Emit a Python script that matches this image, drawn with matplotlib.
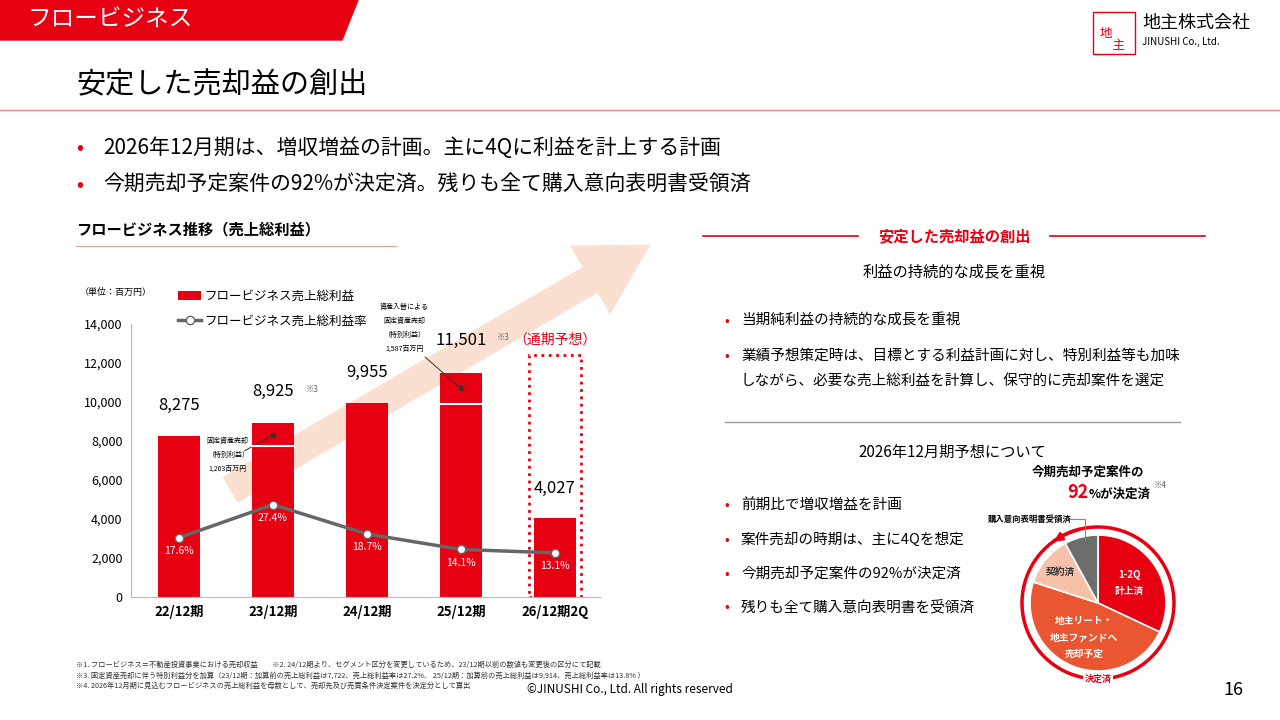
import matplotlib.pyplot as plt
from matplotlib.patches import Polygon, Rectangle, FancyArrow
import numpy as np

plt.rcParams['font.family'] = ['Noto Sans CJK JP', 'DejaVu Sans']

# =========================
# Data
# =========================
periods = ["22/12期", "23/12期", "24/12期", "25/12期", "26/12期2Q"]
gross_profit = [8275, 8925, 9955, 11501, 4027]
base_profit = [8275, 7722, 9955, 9914, 4027]   # before special gains
margin = [17.6, 27.4, 18.7, 14.1, 13.1]
forecast_top = 12400

pie_labels = ["1-2Q\n計上済", "地主リート・\n地主ファンドへ\n売却予定", "契約済", ""]
pie_share = [32, 48, 12, 8]
pie_colors = ["#e60012", "#ea5532", "#f5c1a9", "#6d6d6d"]

RED = "#e60012"

fig = plt.figure(figsize=(12.8, 7.2), dpi=100)
bg = fig.add_axes([0, 0, 1, 1])
bg.set_xlim(0, 1280)
bg.set_ylim(720, 0)
bg.axis("off")

# header
bg.add_patch(Polygon([[0, 0], [358, 0], [342, 40], [0, 40]], color=RED))
bg.text(28, 20, "フロービジネス", color="white", fontsize=17, va="center")
bg.text(76, 85, "安定した売却益の創出", fontsize=21, va="center")
bg.plot([0, 1280], [110, 110], color="#e88", lw=1)
bg.add_patch(Rectangle((1093, 12), 42, 42, fill=False, ec=RED, lw=1))
bg.text(1100, 40, "地\n　主", color=RED, fontsize=9, va="center", linespacing=0.9)
bg.text(1142, 23, "地主株式会社", fontsize=13, va="center")
bg.text(1142, 42, "JINUSHI Co., Ltd.", fontsize=7, va="center")

for y, t in [(148, "2026年12月期は、増収増益の計画。主に4Qに利益を計上する計画"),
             (185, "今期売却予定案件の92%が決定済。残りも全て購入意向表明書受領済")]:
    bg.text(76, y, "•", color=RED, fontsize=15, va="center")
    bg.text(103, y, t, fontsize=15, va="center")

bg.text(76, 229, "フロービジネス推移（売上総利益）", fontsize=11, fontweight="bold", va="center")
bg.plot([76, 396], [246, 246], color="#e99", lw=0.8)
bg.text(80, 292, "（単位：百万円）", fontsize=6.5, va="center")

# background arrow
bg.add_patch(FancyArrow(230, 490, 360, -210, width=30, head_width=80, head_length=70,
                        color="#fbd9c6", alpha=0.8, lw=0))

# right panel
bg.plot([703, 858], [236, 236], color=RED, lw=1.2)
bg.plot([1050, 1205], [236, 236], color=RED, lw=1.2)
bg.text(954, 236, "安定した売却益の創出", color=RED, fontsize=11, fontweight="bold", ha="center", va="center")
bg.text(954, 272, "利益の持続的な成長を重視", fontsize=11, ha="center", va="center")
for y, t in [(321, "当期純利益の持続的な成長を重視"),
             (356, "業績予想策定時は、目標とする利益計画に対し、特別利益等も加味"),
             (382, "しながら、必要な売上総利益を計算し、保守的に売却案件を選定")]:
    if y != 382:
        bg.text(724, y, "•", color=RED, fontsize=10, va="center")
    bg.text(741, y, t, fontsize=10.5, va="center")
bg.plot([725, 1180], [422, 422], color="#999", lw=1)
bg.text(952, 452, "2026年12月期予想について", fontsize=11, ha="center", va="center")
for y, t in [(505, "前期比で増収増益を計画"), (540, "案件売却の時期は、主に4Qを想定"),
             (574, "今期売却予定案件の92%が決定済"), (607, "残りも全て購入意向表明書を受領済")]:
    bg.text(724, y, "•", color=RED, fontsize=10, va="center")
    bg.text(741, y, t, fontsize=10.5, va="center")

bg.text(1088, 472, "今期売却予定案件の", fontsize=9, fontweight="bold", ha="center", va="center")
bg.text(1088, 493, "92", color=RED, fontsize=13, fontweight="bold", ha="right", va="center")
bg.text(1089, 494, "%が決定済", fontsize=9, fontweight="bold", ha="left", va="center")
bg.text(1154, 485, "※4", fontsize=6, color="#666", va="center")

# pie
cx, cy, r = 1098, 603, 68
ang = 90
for share, col, lab in zip(pie_share, pie_colors, pie_labels):
    span = share / 100 * 360
    t = np.radians(np.linspace(ang, ang - span, 60))
    pts = [[cx, cy]] + [[cx + r * np.cos(a), cy - r * np.sin(a)] for a in t]
    bg.add_patch(Polygon(pts, color=col, ec="white", lw=1.2))
    mid = np.radians(ang - span / 2)
    rr = 0.55 * r if lab != "契約済" else 0.72 * r
    if lab:
        bg.text(cx + rr * np.cos(mid), cy - rr * np.sin(mid), lab, fontsize=7,
                fontweight="bold", ha="center", va="center", linespacing=1.8,
                color="white" if lab != "契約済" else "#333")
    ang -= span
t = np.radians(np.linspace(-80, 125, 200))
bg.plot(cx + 76 * np.cos(t), cy - 76 * np.sin(t), color=RED, lw=2.5)
t = np.radians(np.linspace(-100, -255, 200))
bg.plot(cx + 76 * np.cos(t), cy - 76 * np.sin(t), color=RED, lw=2.5)
a = np.radians(125)
bg.annotate("", xy=(cx + 76 * np.cos(a + 0.05), cy - 76 * np.sin(a + 0.05)),
            xytext=(cx + 76 * np.cos(a - 0.15), cy - 76 * np.sin(a - 0.15)),
            arrowprops=dict(arrowstyle="-|>", color=RED, lw=2, mutation_scale=12))
bg.text(cx, cy + 76, "決定済", color=RED, fontsize=6.5, fontweight="bold", ha="center", va="center",
        bbox=dict(fc="white", ec="none", pad=1))
bg.text(1030, 519, "購入意向表明書受領済", fontsize=6, fontweight="bold", ha="center", va="center")
bg.plot([1070, 1085, 1085], [519, 519, 540], color="#888", lw=0.8)

# footnotes
notes = ["※1. フロービジネス＝不動産投資事業における売却収益　　※2. 24/12期より、セグメント区分を変更しているため、23/12期以前の数値も変更後の区分にて記載",
         "※3. 固定資産売却に伴う特別利益分を加算（23/12期：加算前の売上総利益は7,722、売上総利益率は27.2%、 25/12期：加算前の売上総利益は9,914、売上総利益率は13.8% ）",
         "※4. 2026年12月期に見込むフロービジネスの売上総利益を母数として、売却先及び売買条件決定案件を決定分として算出"]
for i, n in enumerate(notes):
    bg.text(76, 665 + i * 10.5, n, fontsize=5.2, color="#333", va="center")
bg.text(527, 689, "©JINUSHI Co., Ltd. All rights reserved", fontsize=8.5, va="center")
bg.text(1243, 690, "16", fontsize=13, ha="right", va="center")

# =========================
# Bar chart
# =========================
ax = fig.add_axes([131 / 1280, 123 / 720, 469 / 1280, 273 / 720])
ax.patch.set_alpha(0)
x = np.arange(len(periods))
ax.bar(x, gross_profit, width=0.45, color=RED, label="フロービジネス売上総利益", zorder=2)
for i in (1, 3):
    ax.plot([i - 0.225, i + 0.225], [base_profit[i]] * 2, color="white", lw=1.5, zorder=3)
ax.add_patch(Rectangle((3.72, 0), 0.56, forecast_top, fill=False, ec=RED, ls=":", lw=2, zorder=1))
ax.set_ylim(0, 14000)
ax.set_xlim(-0.51, 4.48)
ax.set_yticks(range(0, 14001, 2000))
ax.set_yticklabels([f"{v:,}" for v in range(0, 14001, 2000)], fontsize=9)
ax.set_xticks(x)
ax.set_xticklabels(periods, fontsize=9.5, fontweight="bold")
ax.tick_params(length=0, pad=6)
for s in ["top", "right"]:
    ax.spines[s].set_visible(False)
ax.spines["bottom"].set_color("#bbb")
ax.spines["left"].set_color("#bbb")
offs = [1100, 1200, 1100, 1200, 1100]
for i, v in enumerate(gross_profit):
    ax.text(i, v + offs[i], f"{v:,}", fontsize=12, ha="center", va="bottom")
ax.text(1.35, 10500, "※3", fontsize=6, color="#666")
ax.text(3.38, 13200, "※3", fontsize=6, color="#666")
ax.text(4.0, 13200, "（通期予想）", color=RED, fontsize=10, ha="center", va="center")
# annotations
ax.plot([0.7, 1.0], [7500, 8300], color="#333", lw=0.7)
ax.plot(1.0, 8300, "o", color="#333", ms=3)
ax.text(0.52, 7300, "固定資産売却\n（特別利益）\n1,203百万円", fontsize=5, ha="center", va="center", linespacing=2)
ax.plot([2.62, 3.0], [12300, 10700], color="#333", lw=0.7)
ax.plot(3.0, 10700, "o", color="#333", ms=3)
ax.text(2.4, 13800, "資産入替による\n固定資産売却\n（特別利益）\n1,587百万円", fontsize=5, ha="center", va="center", linespacing=2)

ax2 = ax.twinx()
ax2.set_ylim(0, 81)
ax2.axis("off")
ax2.plot(x, margin, color="#666", lw=2.5, marker="o", mfc="white", mec="#666", ms=6,
         label="フロービジネス売上総利益率")
for i, m in enumerate(margin):
    ax2.text(i, m - 4, f"{m}%", color="white", fontsize=7.5, ha="center", va="center")

h1, l1 = ax.get_legend_handles_labels()
h2, l2 = ax2.get_legend_handles_labels()
fig.legend(h1 + h2, l1 + l2, loc="upper left", bbox_to_anchor=(172 / 1280, 1 - 284 / 720),
           frameon=False, fontsize=9, handlelength=1.8, handletextpad=0.3, labelspacing=0.9,
           borderpad=0)

fig.savefig("out.png", dpi=100)
